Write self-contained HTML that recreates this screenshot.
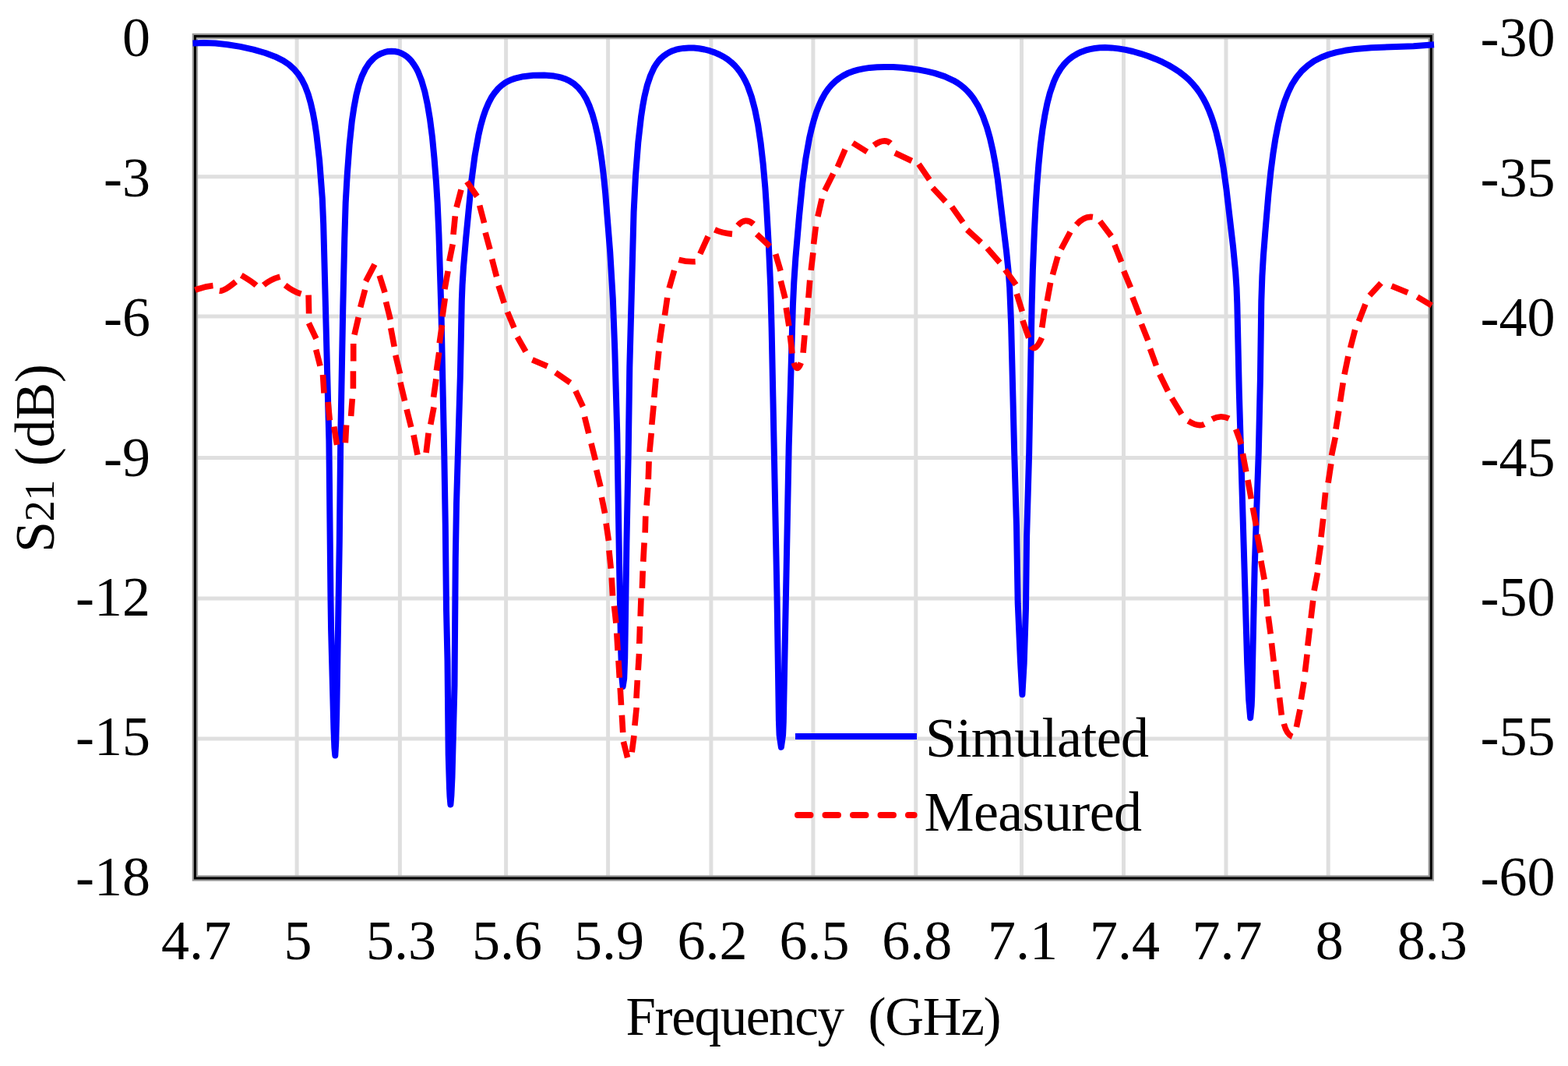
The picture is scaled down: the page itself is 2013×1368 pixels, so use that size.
<!DOCTYPE html>
<html><head><meta charset="utf-8"><style>
html,body{margin:0;padding:0;background:#fff;width:2013px;height:1368px;overflow:hidden}
svg{display:block}
text{font-family:"Liberation Serif",serif;fill:#000}
</style></head><body>
<svg width="2013" height="1368" viewBox="0 0 2013 1368">
<rect x="0" y="0" width="2013" height="1368" fill="#fff"/>
<g stroke="#dfdfdf" stroke-width="5"><line x1="381.1" y1="46.5" x2="381.1" y2="1127.0"/><line x1="513.4" y1="46.5" x2="513.4" y2="1127.0"/><line x1="649.6" y1="46.5" x2="649.6" y2="1127.0"/><line x1="780.6" y1="46.5" x2="780.6" y2="1127.0"/><line x1="912.9" y1="46.5" x2="912.9" y2="1127.0"/><line x1="1043.9" y1="46.5" x2="1043.9" y2="1127.0"/><line x1="1175.8" y1="46.5" x2="1175.8" y2="1127.0"/><line x1="1311.5" y1="46.5" x2="1311.5" y2="1127.0"/><line x1="1442.5" y1="46.5" x2="1442.5" y2="1127.0"/><line x1="1574.0" y1="46.5" x2="1574.0" y2="1127.0"/><line x1="1705.2" y1="46.5" x2="1705.2" y2="1127.0"/><line x1="250.4" y1="226.8" x2="1837.3" y2="226.8"/><line x1="250.4" y1="406.1" x2="1837.3" y2="406.1"/><line x1="250.4" y1="587.5" x2="1837.3" y2="587.5"/><line x1="250.4" y1="768.0" x2="1837.3" y2="768.0"/><line x1="250.4" y1="948.0" x2="1837.3" y2="948.0"/></g>
<g font-size="72"><text x="193.0" y="72.3" text-anchor="end">0</text><text x="1900.5" y="72.3">-30</text><text x="193.0" y="251.7" text-anchor="end">-3</text><text x="1900.5" y="251.7">-35</text><text x="193.0" y="431.1" text-anchor="end">-6</text><text x="1900.5" y="431.1">-40</text><text x="193.0" y="610.5" text-anchor="end">-9</text><text x="1900.5" y="610.5">-45</text><text x="193.0" y="789.9" text-anchor="end">-12</text><text x="1900.5" y="789.9">-50</text><text x="193.0" y="969.3" text-anchor="end">-15</text><text x="1900.5" y="969.3">-55</text><text x="193.0" y="1148.7" text-anchor="end">-18</text><text x="1900.5" y="1148.7">-60</text><text x="251.9" y="1231.0" text-anchor="middle">4.7</text><text x="382.6" y="1231.0" text-anchor="middle">5</text><text x="514.9" y="1231.0" text-anchor="middle">5.3</text><text x="651.1" y="1231.0" text-anchor="middle">5.6</text><text x="782.1" y="1231.0" text-anchor="middle">5.9</text><text x="914.4" y="1231.0" text-anchor="middle">6.2</text><text x="1045.4" y="1231.0" text-anchor="middle">6.5</text><text x="1177.3" y="1231.0" text-anchor="middle">6.8</text><text x="1313.0" y="1231.0" text-anchor="middle">7.1</text><text x="1444.0" y="1231.0" text-anchor="middle">7.4</text><text x="1575.5" y="1231.0" text-anchor="middle">7.7</text><text x="1706.7" y="1231.0" text-anchor="middle">8</text><text x="1838.8" y="1231.0" text-anchor="middle">8.3</text></g>
<text x="803.5" y="1327.5" font-size="69" textLength="482.0" lengthAdjust="spacing" xml:space="preserve">Frequency  (GHz)</text>
<text transform="translate(69.0,709.0) rotate(-90)" font-size="72" textLength="242.0" lengthAdjust="spacing">S<tspan font-size="54">21</tspan> (dB)</text>
<rect x="250.4" y="46.5" width="1586.8999999999999" height="1080.5" fill="none" stroke="#999" stroke-width="7.4"/>
<rect x="250.4" y="46.5" width="1586.8999999999999" height="1080.5" fill="none" stroke="#000" stroke-width="3"/>
<path d="M247.5,55.5 L261.7,55.0 L276.5,55.5 L292.2,57.2 L308.6,59.9 L325.4,63.6 L340.6,68.0 L353.2,72.7 L363.6,77.9 L370.9,82.8 L377.2,88.4 L382.7,94.8 L387.5,102.2 L391.8,110.8 L395.6,120.8 L398.9,132.4 L401.9,145.7 L404.2,158.3 L406.3,172.5 L410.1,205.9 L413.8,254.5 L415.2,287.5 L422.4,565.5 L424.4,760.8 L425.1,808.8 L428.4,934.9 L429.4,959.7 L430.3,969.5 L431.2,953.5 L432.2,916.2 L435.8,696.0 L437.3,559.3 L440.3,394.1 L442.3,306.2 L443.7,260.0 L445.8,223.5 L448.6,185.9 L451.8,155.3 L454.5,137.4 L457.4,122.0 L460.7,109.0 L464.5,98.0 L468.9,88.7 L473.8,81.1 L479.5,75.0 L482.6,72.5 L485.9,70.4 L489.9,68.4 L494.0,66.9 L498.3,66.0 L502.6,65.7 L506.9,66.0 L511.0,66.8 L515.0,68.2 L518.8,70.2 L522.2,72.6 L525.5,75.5 L528.5,78.8 L531.4,82.8 L534.1,87.2 L536.7,92.1 L541.3,103.8 L545.3,117.5 L548.8,133.8 L552.0,153.0 L554.9,175.4 L557.5,202.6 L560.0,234.1 L561.6,259.9 L563.4,300.6 L566.4,397.3 L570.2,578.1 L571.8,673.8 L573.0,782.1 L574.5,847.8 L575.7,968.7 L577.0,1011.2 L577.5,1021.9 L578.4,1032.5 L579.4,1020.9 L580.5,996.7 L583.5,879.7 L584.8,716.3 L586.0,646.7 L590.8,484.3 L592.8,385.7 L593.6,365.4 L595.0,343.1 L598.2,305.4 L605.4,231.3 L609.6,199.6 L614.3,173.5 L617.1,161.3 L620.2,150.4 L623.5,140.8 L627.1,132.4 L630.9,125.1 L635.2,118.8 L639.8,113.4 L644.8,108.9 L648.5,106.3 L652.5,104.1 L656.7,102.2 L661.3,100.6 L671.8,98.2 L684.4,96.8 L698.6,96.6 L711.2,97.6 L716.7,98.6 L721.7,99.9 L726.4,101.6 L730.7,103.6 L737.1,107.7 L742.8,112.9 L747.9,119.2 L752.6,126.9 L756.7,136.0 L760.5,146.7 L764.0,159.0 L767.2,173.2 L770.0,188.7 L772.6,206.3 L775.0,226.0 L777.2,248.0 L783.2,323.0 L786.8,383.6 L789.3,449.6 L792.3,556.1 L795.3,738.8 L797.3,838.3 L798.5,870.1 L799.6,881.0 L801.2,870.9 L802.2,844.5 L804.4,697.6 L806.7,581.8 L808.3,471.4 L813.6,271.7 L816.0,225.2 L819.3,182.8 L823.0,150.1 L825.1,136.3 L827.3,124.2 L830.9,109.3 L835.1,96.9 L839.8,86.7 L842.5,82.4 L845.3,78.5 L848.4,75.0 L851.8,72.0 L855.4,69.4 L859.3,67.1 L863.4,65.2 L867.9,63.7 L872.7,62.6 L877.8,61.9 L884.2,61.5 L890.8,61.6 L897.6,62.3 L904.5,63.5 L911.1,65.2 L917.5,67.4 L923.5,70.0 L929.2,73.0 L934.1,76.2 L938.7,79.8 L942.9,83.7 L946.8,88.1 L950.4,92.8 L953.8,98.1 L956.9,103.9 L959.8,110.2 L964.8,124.1 L969.2,140.6 L973.1,160.0 L976.5,182.8 L979.6,209.7 L982.4,241.1 L984.2,267.9 L987.0,317.7 L989.2,367.6 L990.6,420.9 L997.5,763.8 L999.9,924.7 L1000.6,943.1 L1002.9,958.8 L1005.1,943.1 L1005.8,926.4 L1012.7,573.1 L1017.9,392.1 L1019.3,362.3 L1021.4,330.8 L1026.0,277.5 L1030.2,235.1 L1034.4,203.6 L1039.1,177.1 L1041.9,165.1 L1044.8,154.2 L1047.9,144.4 L1051.3,135.6 L1054.9,127.7 L1058.8,120.6 L1063.1,114.3 L1067.7,108.8 L1072.3,104.4 L1077.2,100.5 L1082.5,97.1 L1088.3,94.1 L1094.6,91.7 L1101.5,89.7 L1108.9,88.1 L1116.8,86.9 L1126.0,86.2 L1136.0,85.9 L1146.6,86.1 L1157.7,86.8 L1169.0,88.0 L1180.0,89.6 L1190.3,91.6 L1199.8,93.9 L1212.8,98.1 L1224.0,103.3 L1229.1,106.3 L1233.7,109.5 L1238.1,113.1 L1242.1,117.0 L1245.9,121.2 L1249.5,125.9 L1256.0,136.4 L1261.8,148.9 L1267.0,163.4 L1270.9,177.2 L1274.5,192.8 L1277.8,210.3 L1280.8,229.9 L1292.1,323.2 L1294.6,347.7 L1296.2,369.0 L1298.1,416.4 L1302.2,581.5 L1305.0,674.7 L1306.7,774.3 L1310.0,849.3 L1312.4,891.2 L1314.7,850.9 L1317.0,780.6 L1318.1,689.0 L1321.2,580.7 L1324.6,392.7 L1325.9,346.1 L1327.9,297.1 L1329.8,259.9 L1331.2,238.6 L1333.4,210.9 L1335.8,186.6 L1338.4,166.2 L1341.3,148.3 L1344.4,132.8 L1347.9,119.2 L1352.9,104.9 L1355.7,98.7 L1358.7,93.0 L1361.9,87.9 L1365.4,83.3 L1369.2,79.1 L1373.3,75.4 L1377.8,72.1 L1382.7,69.2 L1387.9,66.7 L1393.4,64.7 L1399.3,63.1 L1405.4,62.0 L1411.9,61.3 L1418.7,61.1 L1427.0,61.4 L1435.8,62.4 L1444.9,63.9 L1454.4,66.0 L1464.2,68.8 L1473.9,72.0 L1483.4,75.7 L1492.5,79.7 L1500.4,83.8 L1507.7,88.1 L1514.4,92.5 L1520.6,97.3 L1526.2,102.3 L1531.4,107.7 L1536.1,113.4 L1540.5,119.5 L1544.7,126.3 L1548.5,133.6 L1552.1,141.6 L1555.4,150.2 L1558.5,159.6 L1561.4,169.7 L1566.7,192.8 L1570.7,215.9 L1574.4,242.4 L1583.0,316.3 L1586.2,349.4 L1587.5,369.2 L1588.3,389.9 L1590.8,503.3 L1601.2,851.7 L1603.2,898.0 L1605.2,921.2 L1606.7,905.5 L1607.2,893.9 L1610.7,727.6 L1615.8,581.1 L1617.9,487.6 L1619.3,386.6 L1620.4,354.3 L1621.9,328.7 L1624.3,298.1 L1628.4,249.7 L1631.5,219.5 L1634.4,197.2 L1637.5,177.4 L1640.9,159.9 L1644.7,144.5 L1648.9,130.7 L1653.6,118.7 L1658.8,108.1 L1664.7,99.0 L1671.3,91.0 L1678.8,84.2 L1687.1,78.3 L1696.5,73.5 L1705.5,70.0 L1715.7,67.1 L1726.9,64.8 L1739.6,63.0 L1760.5,61.3 L1814.7,59.2 L1841.0,57.3" fill="none" stroke="#0000ff" stroke-width="8" stroke-linejoin="round" stroke-linecap="butt"/>
<path d="M250.5,372.2Q262.1,367.8 273.5,366.5M281.8,373.2Q287.6,374.1 302.6,361.5M309.8,353.3Q323.5,361.3 329.0,366.3M338.4,365.9Q347.2,358.5 359.5,355.1M366.1,365.9Q376.2,373.9 386.5,377.2M396.1,378.7L396.6,402.5M396.4,414.7L405.9,434.7M405.7,448.8L411.0,469.6M414.5,481.0L416.0,504.5M421.1,515.9L423.3,539.4M428.8,547.5L432.6,570.9M443.4,568.2L444.6,545.5M450.6,534.0L452.3,511.7M453.4,498.7L453.4,476.3M453.7,463.4L453.7,441.0M455.0,429.6L460.2,407.2M462.7,394.2L468.6,371.9M469.6,361.0L481.0,339.3M487.2,353.7L494.1,375.3M495.5,387.3L501.2,410.2M501.7,421.0L506.2,444.9M507.8,455.8L513.5,479.7M513.9,490.6L519.6,514.5M522.1,525.3L527.8,548.2M531.0,558.3L536.0,583.7M547.1,581.0L550.1,555.8M552.8,544.8L557.0,522.5M556.6,509.7L559.9,486.4M560.4,475.5L563.7,452.2M564.2,440.4L567.5,417.1M568.0,406.2L571.3,382.9M570.9,371.1L575.1,347.8M576.8,335.2L581.2,313.4M582.0,301.0L584.3,277.4M586.1,266.0L592.0,243.5M599.4,233.1L612.5,252.0M615.7,263.6L621.6,286.1M623.1,298.6L629.0,320.0M631.6,332.5L637.5,355.0M640.0,366.5L647.2,388.8M651.5,400.4L660.0,420.6M664.2,432.3L674.9,451.2M683.4,461.7L702.7,469.9M713.2,478.2L732.1,491.1M738.9,501.6L748.4,521.9M750.5,534.8L755.8,556.2M759.0,569.0L764.4,590.4M765.7,603.2L771.0,624.6M772.4,638.3L776.6,658.8M778.1,671.6L781.4,693.9M781.9,706.3L784.3,729.6M785.2,741.4L786.5,764.6M788.5,777.6L790.9,799.7M791.8,812.6L793.1,834.8M794.0,847.7L795.3,869.8M796.2,882.8L797.5,904.9M798.4,917.8L799.7,940.0M800.4,951.8L805.6,972.2M811.2,965.2L814.0,944.1M814.9,931.2L817.2,908.0M817.0,896.1L818.3,872.9M819.2,860.0L820.5,838.9M820.8,826.0L821.5,803.8M822.2,790.9L823.0,767.7M824.4,754.8L825.2,732.6M825.8,720.8L827.1,696.5M828.2,683.7L828.8,662.3M830.1,648.6L831.8,625.8M832.3,615.1L833.1,592.2M833.9,580.0L836.2,555.8M836.8,545.0L839.1,520.7M839.8,510.0L842.0,485.7M843.3,474.9L845.8,450.6M846.7,439.9L850.2,415.6M853.4,404.8L856.7,382.0M859.1,369.8L865.6,347.0M871.4,333.3Q882.0,336.3 892.7,335.7M898.8,325.8L909.0,303.4M917.5,294.8Q927.3,299.2 940.0,300.4M947.2,289.5Q956.8,278.2 967.4,287.7M971.5,300.4L988.4,316.3M995.7,326.1L1002.1,347.7M1002.3,360.5L1008.0,383.0M1009.2,394.9L1012.9,418.3M1014.3,430.2L1017.0,453.6M1019.2,465.6Q1023.3,479.3 1028.3,465.6M1031.1,452.8L1033.0,430.2M1035.3,417.5L1037.2,394.9M1037.9,382.2L1039.7,359.6M1041.2,346.9L1043.9,324.3M1044.6,313.3L1047.3,290.7M1049.9,277.9L1055.1,255.0M1058.9,244.5L1069.7,222.9M1075.3,214.3L1085.0,191.7M1094.8,183.4L1113.2,194.9M1121.9,186.3Q1135.3,176.7 1143.3,183.8M1148.9,196.3L1170.6,206.5M1179.5,210.7L1193.2,230.6M1197.3,241.0L1213.8,258.6M1222.0,265.4L1236.2,285.4M1241.6,294.9L1259.4,311.1M1267.4,318.4L1283.6,336.9M1290.4,346.1L1304.3,365.4M1305.3,377.2L1312.3,399.6M1312.9,411.3L1320.7,433.6M1323.7,444.5Q1329.3,451.9 1337.5,433.5M1337.7,420.4L1341.2,396.3M1344.3,386.2L1348.6,362.8M1351.4,352.6L1357.9,329.2M1362.3,319.7L1374.0,297.7M1381.8,288.5Q1391.8,277.0 1402.9,278.6M1412.2,284.0L1426.7,303.1M1430.9,314.2L1439.6,336.1M1442.7,347.7L1451.5,369.0M1453.9,381.3L1462.6,403.9M1465.4,415.9L1473.8,436.9M1476.5,447.6L1484.4,469.2M1488.7,480.3L1499.4,502.0M1504.4,511.1L1516.9,531.5M1525.5,540.2Q1538.2,548.2 1546.1,544.4M1556.1,537.8Q1567.0,532.0 1577.8,537.2M1586.6,550.9L1593.6,570.1M1595.4,582.2L1599.8,605.5M1601.9,616.0L1606.3,640.1M1608.3,651.4L1612.7,674.7M1613.9,686.0L1618.3,709.3M1618.8,719.7L1623.2,743.8M1624.9,755.6L1626.8,778.2M1628.2,791.0L1631.2,813.5M1632.5,825.4L1635.2,848.9M1637.6,859.9L1640.3,884.2M1642.6,895.3L1645.3,917.8M1648.3,928.9Q1651.8,942.5 1659.0,945.5M1664.4,933.0L1669.0,910.4M1670.3,897.7L1674.0,875.1M1675.4,862.3L1678.1,839.8M1678.8,828.7L1681.5,806.1M1683.0,793.4L1685.7,770.8M1687.1,758.0L1691.5,735.0M1691.9,724.5L1695.5,699.6M1696.0,689.2L1698.7,665.8M1699.4,653.8L1701.6,632.1M1705.1,619.6L1708.8,595.3M1709.5,584.6L1714.3,561.3M1715.0,550.6L1718.7,527.4M1720.5,515.5L1724.2,491.2M1726.0,480.4L1730.8,457.2M1733.6,446.4L1739.6,423.2M1744.4,412.4L1752.9,390.4M1758.3,379.3L1773.0,363.2M1786.5,366.9L1807.3,375.6M1819.5,381.1L1838.0,392.1" fill="none" stroke="#ff0000" stroke-width="7.6" stroke-linecap="butt" stroke-linejoin="round"/>
<line x1="1021" y1="945" x2="1177" y2="945" stroke="#0000ff" stroke-width="8"/>
<line x1="1024" y1="1046" x2="1173.6" y2="1046" stroke="#ff0000" stroke-width="8" stroke-linecap="round" stroke-dasharray="16.5 19"/>
<text x="1188.0" y="971.0" font-size="72" textLength="287.0" lengthAdjust="spacing">Simulated</text>
<text x="1186.5" y="1066.0" font-size="72" textLength="279.5" lengthAdjust="spacing">Measured</text>
</svg></body></html>
